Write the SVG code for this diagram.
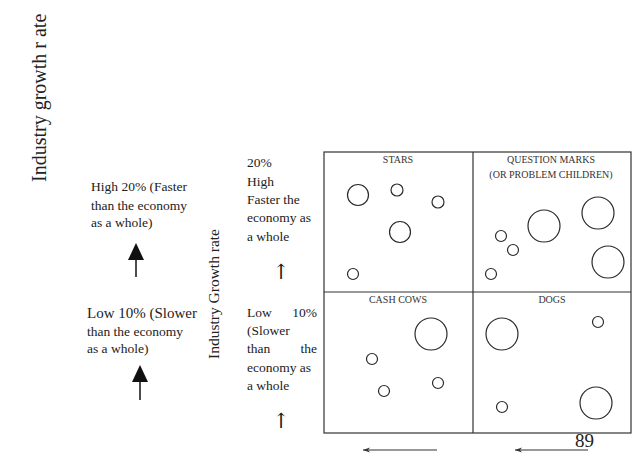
<svg xmlns="http://www.w3.org/2000/svg" width="640" height="459" viewBox="0 0 640 459">
<defs>
<style>
.t{font-family:"Liberation Serif","Times New Roman",serif;fill:#222}
.ar{font-family:"DejaVu Serif","DejaVu Sans",serif;fill:#222;text-anchor:middle}
.q{font-family:"Liberation Serif","Times New Roman",serif;font-size:10px;fill:#333;text-anchor:middle}
.c{fill:none;stroke:#2a2a2a;stroke-width:1.2}
.g{fill:none;stroke:#333;stroke-width:1.2}
.a{stroke:#333;stroke-width:1.2;fill:none}
</style>
<marker id="sh" markerWidth="8" markerHeight="6" refX="7" refY="3" orient="auto" markerUnits="userSpaceOnUse">
<path d="M7,3 L0,0.5 L2,3 L0,5.5 Z" fill="#333"/>
</marker>
</defs>
<rect width="640" height="459" fill="#fff"/>

<g id="axis-title">
<text class="t" font-size="20" transform="translate(46,182) rotate(-90)">Industry growth r ate</text>
</g>

<g id="high-label">
<text class="t" font-size="13.5" x="91" y="191">High 20% (Faster</text>
<text class="t" font-size="13.5" x="91" y="210">than the economy</text>
<text class="t" font-size="13.5" x="91" y="227">as a whole)</text>
</g>

<g id="low-label">
<text class="t" font-size="15" x="87" y="318">Low 10% (Slower</text>
<text class="t" font-size="13.5" x="87" y="336">than the economy</text>
<text class="t" font-size="13.5" x="87" y="353">as a whole)</text>
</g>

<g id="mid-axis-title">
<text class="t" font-size="15.5" transform="translate(219,359) rotate(-90)">Industry Growth rate</text>
</g>

<g id="mid-high">
<text class="t" font-size="13.5" x="247" y="167">20%</text>
<text class="t" font-size="13.5" x="247" y="186">High</text>
<text class="t" font-size="13.5" x="247" y="204">Faster the</text>
<text class="t" font-size="13.5" x="247" y="222">economy as</text>
<text class="t" font-size="13.5" x="247" y="241">a whole</text>
<text class="ar" font-size="21" x="281" y="279">↑</text>
</g>

<g id="mid-low">
<text class="t" font-size="13.5" x="247" y="317">Low</text>
<text class="t" font-size="13.5" x="317" y="317" text-anchor="end">10%</text>
<text class="t" font-size="13.5" x="247" y="335">(Slower</text>
<text class="t" font-size="13.5" x="247" y="353">than</text>
<text class="t" font-size="13.5" x="317" y="353" text-anchor="end">the</text>
<text class="t" font-size="13.5" x="247" y="372">economy as</text>
<text class="t" font-size="13.5" x="247" y="390">a whole</text>
<text class="ar" font-size="21" x="281" y="428">↑</text>
</g>

<g id="grid">
<rect class="g" x="324" y="152" width="307" height="281"/>
<line class="g" x1="473" y1="152" x2="473" y2="433"/>
<line class="g" x1="324" y1="292" x2="631" y2="292"/>
</g>

<g id="stars">
<text class="q" x="398" y="163">STARS</text>
<circle class="c" cx="358" cy="195" r="10.5"/>
<circle class="c" cx="397" cy="190" r="6"/>
<circle class="c" cx="438" cy="202" r="6"/>
<circle class="c" cx="400" cy="232" r="10.5"/>
<circle class="c" cx="353" cy="274" r="5.5"/>
</g>

<g id="question-marks">
<text class="q" x="551" y="163">QUESTION MARKS</text>
<text class="q" x="551" y="178">(OR PROBLEM CHILDREN)</text>
<circle class="c" cx="544" cy="226" r="16"/>
<circle class="c" cx="598" cy="213" r="16"/>
<circle class="c" cx="608" cy="262" r="16"/>
<circle class="c" cx="501" cy="236" r="5.5"/>
<circle class="c" cx="513" cy="250" r="5.5"/>
<circle class="c" cx="491" cy="274" r="5.5"/>
</g>

<g id="cash-cows">
<text class="q" x="398" y="303">CASH COWS</text>
<circle class="c" cx="431" cy="334" r="16"/>
<circle class="c" cx="372" cy="359" r="5.5"/>
<circle class="c" cx="384" cy="391" r="5.5"/>
<circle class="c" cx="438" cy="383" r="5.5"/>
</g>

<g id="dogs">
<text class="q" x="552" y="303">DOGS</text>
<circle class="c" cx="502" cy="334" r="16"/>
<circle class="c" cx="598" cy="322" r="5.5"/>
<circle class="c" cx="502" cy="407" r="5.5"/>
<circle class="c" cx="596" cy="403" r="16"/>
</g>

<g id="page-number">
<text class="t" font-size="19" x="575" y="447">89</text>
</g>

<g id="connectors">
<line x1="136" y1="277" x2="136" y2="258" stroke="#111" stroke-width="1.5"/>
<path d="M136,243 L128,260 L144,260 Z" fill="#111"/>
<line x1="140" y1="400" x2="140" y2="381" stroke="#111" stroke-width="1.5"/>
<path d="M140,365 L132,382 L148,382 Z" fill="#111"/>
<line class="a" x1="437" y1="450" x2="363" y2="450" marker-end="url(#sh)"/>
<line class="a" x1="588" y1="450" x2="515" y2="450" marker-end="url(#sh)"/>
</g>
</svg>
